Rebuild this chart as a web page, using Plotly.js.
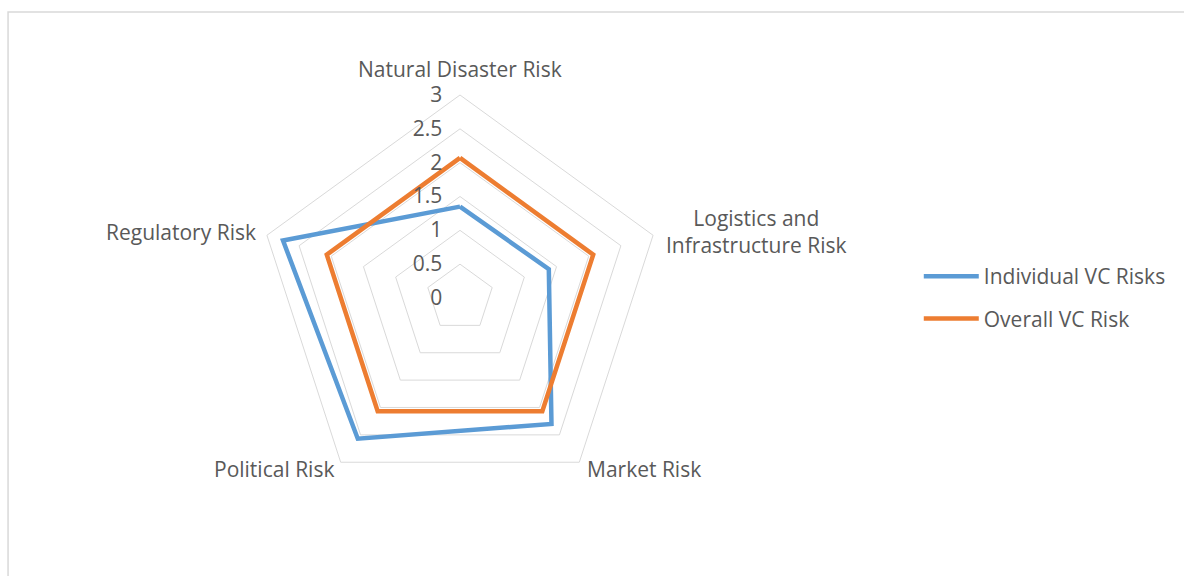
<!DOCTYPE html>
<html>
<head>
<meta charset="utf-8">
<script src="https://cdn.plot.ly/plotly-3.0.1.min.js"></script>
<style>html,body{margin:0;padding:0;background:#fff;}#chart{width:1184px;height:576px;}</style>
</head>
<body>
<div id="chart"></div>
<script>
var categories = ["Natural Disaster Risk", "Logistics and<br>Infrastructure Risk", "Market Risk", "Political Risk", "Regulatory Risk"];
var individualVC = [1.35, 1.38, 2.3, 2.57, 2.75];
var overallVC = [2.07, 2.07, 2.07, 2.07, 2.07];
var seriesNames = ["Individual VC Risks", "Overall VC Risk"];
var radialTicks = [0, 0.5, 1, 1.5, 2, 2.5, 3];

function closed(a){ return a.concat([a[0]]); }

var traces = [
  {type:'scatterpolar', mode:'lines', name:seriesNames[0], legendgroup:'a',
   r:closed(individualVC), theta:closed(categories),
   line:{color:'#5B9BD5', width:4.5, shape:'linear'}},
  {type:'scatterpolar', mode:'lines', name:seriesNames[1], legendgroup:'b',
   r:closed(overallVC), theta:closed(categories),
   line:{color:'#ED7D31', width:4.5, shape:'linear'}}
];

var textColor = '#595959';
var fontFam = '"Open Sans", Lato, sans-serif';
var W = 1184, H = 576;

// category label placement (Excel-style, beside each vertex)
var labelPos = [
  {x:460, y:69,  xa:'center'},
  {x:664, y:231, xa:'left'},
  {x:585, y:469, xa:'left'},
  {x:336, y:469, xa:'right'},
  {x:258, y:232, xa:'right'}
];
var annotations = categories.map(function(c, i){
  var p = labelPos[i];
  return {text:c, xref:'paper', yref:'paper', x:p.x/W, y:1-p.y/H, xanchor:p.xa, yanchor:'middle',
          align:'center', showarrow:false, font:{family:fontFam, size:21, color:textColor}};
});

var layout = {
  width:W, height:H,
  margin:{l:0, r:0, t:0, b:0},
  paper_bgcolor:'#fff',
  font:{family:fontFam, size:21, color:textColor},
  showlegend:true,
  legend:{x:0.776, y:0.4835, xanchor:'left', yanchor:'middle', traceorder:'grouped', tracegroupgap:12,
          itemwidth:55, font:{family:fontFam, size:21, color:textColor}, bgcolor:'rgba(0,0,0,0)'},
  polar:{
    domain:{x:[257/W, 663/W], y:[75/H, 481/H]},
    bgcolor:'#fff',
    gridshape:'linear',
    radialaxis:{range:[0,3], tickvals:radialTicks, ticktext:radialTicks.map(String),
      angle:90, tickangle:90, showline:false, ticks:'outside', ticklen:10, tickcolor:'rgba(0,0,0,0)',
      gridcolor:'#D9D9D9', gridwidth:1,
      side:'counterclockwise', tickfont:{family:fontFam, size:21, color:textColor}},
    angularaxis:{rotation:90, direction:'clockwise', showgrid:false, showline:true,
      linecolor:'#D9D9D9', linewidth:1, ticks:'', showticklabels:false}
  },
  annotations:annotations,
  shapes:[{type:'path', xref:'paper', yref:'paper', path:'M 0.0068 0 L 0.0068 0.979 L 1 0.979',
           line:{color:'#D9D9D9', width:1.5}}]
};

Plotly.newPlot('chart', traces, layout, {displayModeBar:false, staticPlot:true});
</script>
</body>
</html>
